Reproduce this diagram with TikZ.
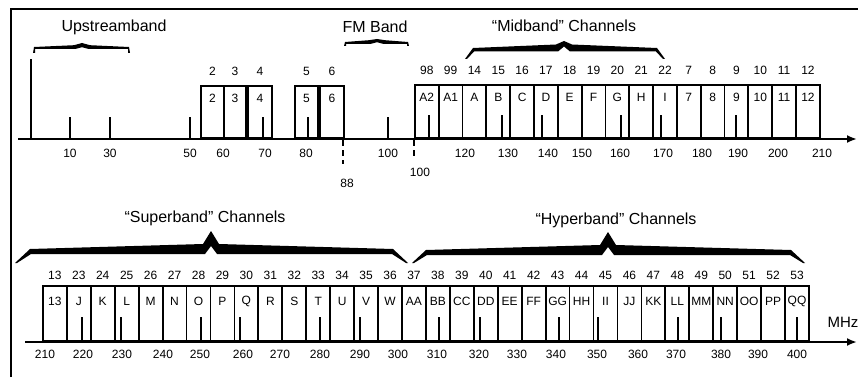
\documentclass[tikz,border=0pt]{standalone}
\usepackage{fontspec}
\setmainfont{Liberation Sans}
\usetikzlibrary{arrows.meta, positioning}

% tapered band brace: left, peak, right, tip y, bar y, thickness, peak y, slant
\newcommand{\bandbrace}[8]{%
  \fill (#1,#4) -- ({#1+#8},#5) -- ({#2-8},{#5-#6}) -- (#2,#7) -- ({#2+8},{#5-#6})
    -- ({#3-#8},#5) -- (#3,#4) -- ({#3-2},#4) -- ({#3-#8-1},{#5+#6})
    -- ({#2+6},{#5+#6}) -- (#2,{#5-#6+2}) -- ({#2-6},{#5+#6})
    -- ({#1+#8+1},{#5+#6}) -- ({#1+2},#4) -- cycle;}

\tikzset{
  chanbox/.style={draw, line width=1.8pt, inner sep=0pt, anchor=south west,
    minimum width=#1, minimum height=52pt},
  chanbox/.default=23.8pt,
  chnum/.style={font=\fontsize{12}{14}\selectfont, inner sep=0pt},
  axlabel/.style={font=\fontsize{12}{14}\selectfont, inner sep=0pt},
  bandtitle/.style={font=\fontsize{16}{18}\selectfont, inner sep=0pt},
  tick/.style={line width=2pt},
  axis/.style={line width=2pt, -{Latex[length=10pt,width=8pt]}},
}

\begin{document}
\begin{tikzpicture}[x=1pt, y=-1pt]
    \useasboundingbox (0,0) rectangle (858,377);
    % frame
    \draw[line width=1.8pt] (11,377) -- (11,9) -- (858,9);

    % axes
    \coordinate (topstart) at (18,139);
    \coordinate (topend) at (857,139);
    \coordinate (botstart) at (25,342);
    \coordinate (botend) at (857,342);
    \draw[axis] (topstart) -- (topend);
    \draw[axis] (botstart) -- (botend);

    % low VHF boxes
    \node[chanbox=23pt] (lo2) at (200,139) {};
    \node[chanbox=22pt] (lo3) at (223,139) {};
    \node[chanbox=24pt] (lo4) at (247,139) {};
    \node[chanbox=23pt] (lo5) at (294,139) {};
    \node[chanbox=24pt] (lo6) at (319,139) {};
    \foreach \c in {2,...,6}{
      \node[chnum] (lon\c) at ([yshift=14pt]lo\c.north) {\c};
      \node[chnum] (lol\c) at ([yshift=-13pt]lo\c.north) {\c};
    }

    % midband and high VHF boxes
    \foreach \num/\lab [count=\i from 0] in {98/A2,99/A1,14/A,15/B,16/C,17/D,18/E,19/F,
        20/G,21/H,22/I,7/7,8/8,9/9,10/10,11/11,12/12}{
      \node[chanbox, minimum height=53pt] (mid\i) at ({414+23.82*\i},139) {};
      \node[chnum] (midn\i) at ([yshift=14pt]mid\i.north) {\num};
      \node[chnum] (midl\i) at ([yshift=-13pt]mid\i.north) {\lab};
    }

    % superband and hyperband boxes
    \foreach \lab [count=\i from 0] in {13,J,K,L,M,N,O,P,Q,R,S,T,U,V,W,
        AA,BB,CC,DD,EE,FF,GG,HH,II,JJ,KK,LL,MM,NN,OO,PP,QQ}{
      \pgfmathtruncatemacro\num{ifthenelse(\i==0,13,22+\i)}
      \node[chanbox=23.94pt, minimum height=55pt] (hi\i) at ({42+23.94*\i},342) {};
      \node[chnum] (hin\i) at ([yshift=10pt]hi\i.north) {\num};
      \node[chnum] (hil\i) at ([yshift=-16pt]hi\i.north) {\lab};
    }

    % carrier ticks
    \draw[tick] (31,139) -- (31,59);
    \foreach \x in {70,110,190,263,308,388}
      \draw[tick] (\x,139) -- (\x,117);
    \foreach \x in {429,502,542,621,661,736}
      \draw[tick] (\x,139) -- (\x,115);
    \foreach \x in {82,121,201,240,320,360,439,480,559,598,678,721,797}
      \draw[tick] (\x,342) -- (\x,317);

    % FM band edges below the axis
    \draw[line width=1.8pt, dash pattern=on 6pt off 4pt] (343,140) -- (343,164);
    \draw[line width=1.8pt, dash pattern=on 6pt off 4pt] (414,140) -- (414,158);

    % frequency labels
    \foreach \f/\x in {10/70,30/110,50/190,60/223,70/265,80/306,100/388,120/465,130/508,
        140/548,150/582,160/620,170/663,180/702,190/738,200/778,210/822}
      \node[axlabel] (ft\f) at (\x,153) {\f};
    \node[axlabel] (ft88) at (347,183) {88};
    \node[axlabel] (ftfm) at (420,172) {100};
    \foreach \f/\x in {210/45,220/83,230/122,240/163,250/200,260/243,270/280,280/320,
        290/360,300/398,310/437,320/479,330/517,340/556,350/597,360/638,370/676,
        380/721,390/758,400/797}
      \node[axlabel] (fb\f) at (\x,354) {\f};
    \node[font=\fontsize{15}{17}\selectfont, inner sep=0pt] (mhz) at (843,322) {MHz};

    % band titles and braces
    \node[bandtitle] (upstream) at (114,27) {Upstreamband};
    \node[bandtitle] (fmband) at (375,27) {FM Band};
    \node[bandtitle] (midband) at (564,26) {“Midband” Channels};
    \node[bandtitle] (superband) at (205,218) {“Superband” Channels};
    \node[bandtitle] (hyperband) at (616,220) {“Hyperband” Channels};
    \bandbrace{33}{82}{130}{53}{47}{1.8}{43}{1}
    \bandbrace{344}{377}{409}{46}{42}{1.8}{39}{1}
    \bandbrace{465}{564}{665}{59}{48}{3.5}{41}{8}
    \bandbrace{15}{211}{408}{263}{249}{5}{231}{15}
    \bandbrace{412}{608}{805}{263}{250}{5}{232}{14}
\end{tikzpicture}
\end{document}
